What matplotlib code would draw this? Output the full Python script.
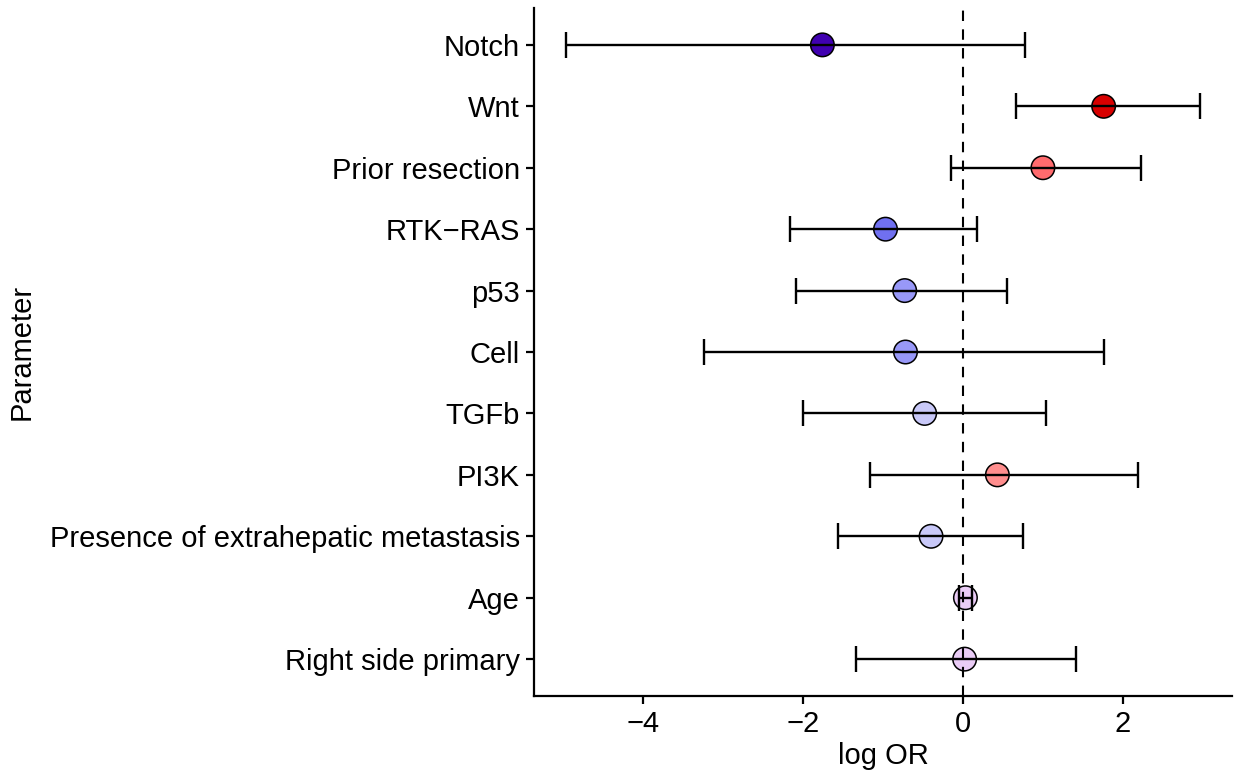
import matplotlib
matplotlib.use("Agg")
import matplotlib.pyplot as plt

params = ["Notch", "Wnt", "Prior resection", "RTK\u2212RAS", "p53", "Cell", "TGFb",
          "PI3K", "Presence of extrahepatic metastasis", "Age", "Right side primary"]
log_or = [-1.76, 1.76, 1.00, -0.97, -0.73, -0.72, -0.48, 0.43, -0.40, 0.03, 0.02]
ci_low = [-4.97, 0.66, -0.15, -2.17, -2.09, -3.24, -2.00, -1.16, -1.57, -0.05, -1.34]
ci_high = [0.78, 2.97, 2.23, 0.18, 0.55, 1.77, 1.04, 2.19, 0.75, 0.11, 1.42]
fill_colors = ["#4000B0", "#D80000", "#FF6B6E", "#7070F0", "#9898F8", "#9898F8",
               "#C8C8F8", "#FF8E8E", "#C8C8F8", "#EACCF6", "#EACCF6"]

plt.rcParams["font.family"] = ["Liberation Sans", "DejaVu Sans"]

fig = plt.figure(figsize=(12.36, 7.8), dpi=100)
ax = fig.add_axes([0.432, 0.1077, 0.565, 0.882])

n = len(params)
ypos = list(range(n - 1, -1, -1))

ax.scatter(log_or, ypos, s=(23.5 * 0.72) ** 2, c=fill_colors, edgecolors="black",
           linewidths=1.1, zorder=2)
xerr = [[m - lo for m, lo in zip(log_or, ci_low)], [hi - m for m, hi in zip(log_or, ci_high)]]
ax.errorbar(log_or, ypos, xerr=xerr, fmt="none", ecolor="black", elinewidth=1.7,
            capsize=9.5, capthick=1.7, zorder=3)
ax.axvline(0, color="black", lw=1.5, linestyle=(0, (5, 4)), zorder=4)

ax.set_yticks(ypos)
ax.set_yticklabels(params)
ax.set_ylim(-0.6, n - 1 + 0.6)
ax.set_xlim(-5.37, 3.37)
ax.set_xticks([-4, -2, 0, 2])
ax.set_xticklabels(["\u22124", "\u22122", "0", "2"])

for s in ["top", "right"]:
    ax.spines[s].set_visible(False)
for s in ["left", "bottom"]:
    ax.spines[s].set_linewidth(1.6)
ax.tick_params(axis="both", direction="out", length=6, width=1.6, labelsize=21,
               colors="black", pad=4)
ax.set_xlabel("log OR", fontsize=21, labelpad=3)
ax.set_ylabel("Parameter", fontsize=21, labelpad=10)

fig.savefig("out.png", dpi=100)
